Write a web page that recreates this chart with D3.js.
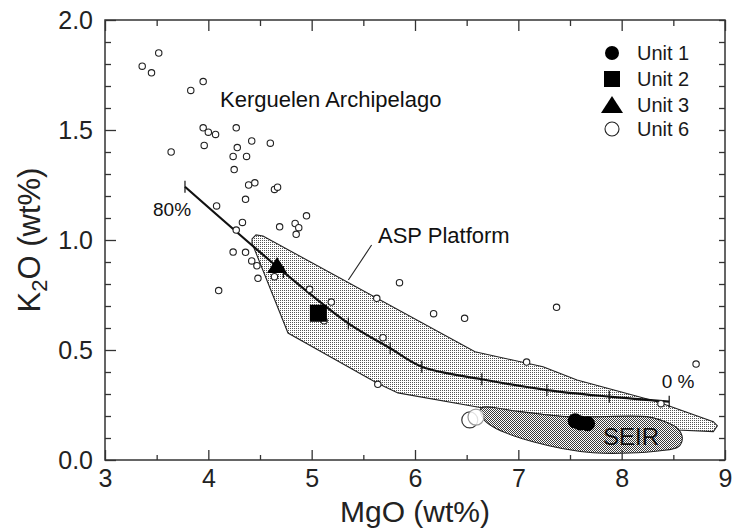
<!DOCTYPE html>
<html>
<head>
<meta charset="utf-8">
<script src="https://cdn.jsdelivr.net/npm/d3@7"></script>
<style>
  body { margin: 0; background: #fff; }
  svg { display: block; font-family: "Liberation Sans", Arial, Helvetica, sans-serif; }
  .axis text { fill: #222; }
  .axis line { stroke: #333; stroke-width: 1.3; }
</style>
</head>
<body>
<div id="chart"></div>
<script>
// small open circles (Kerguelen Archipelago + ASP samples)
var kergMgO = [3.52, 3.36, 3.45, 3.95, 3.83, 3.95, 4.00, 4.07, 4.27, 3.96,
               3.64, 4.42, 4.28, 4.24, 4.37, 4.25, 4.60, 4.39, 4.45, 4.64,
               4.67, 4.36, 4.08, 4.95, 4.33, 4.69, 4.84, 4.875, 4.85, 4.27,
               4.24, 4.36, 4.42, 4.47, 4.48, 4.64, 4.10, 4.98, 5.19, 5.12,
               5.63, 5.85, 5.69, 6.18, 6.48, 7.37, 7.08, 8.72, 8.38, 5.64];
var kergK2O = [1.85, 1.79, 1.76, 1.72, 1.68, 1.51, 1.49, 1.48, 1.51, 1.43,
               1.40, 1.45, 1.42, 1.38, 1.38, 1.32, 1.44, 1.25, 1.26, 1.23,
               1.24, 1.185, 1.155, 1.11, 1.08, 1.06, 1.075, 1.056, 1.026, 1.045,
               0.945, 0.944, 0.905, 0.883, 0.826, 0.833, 0.77, 0.776, 0.718, 0.633,
               0.735, 0.806, 0.556, 0.665, 0.644, 0.694, 0.445, 0.436, 0.256, 0.344];

// site units
var unit1MgO = [7.55, 7.60, 7.67];
var unit1K2O = [0.178, 0.168, 0.165];
var unit2MgO = [5.065];
var unit2K2O = [0.667];
var unit3MgO = [4.665];
var unit3K2O = [0.882];
var unit6MgO = [6.53, 6.59];
var unit6K2O = [0.182, 0.195];

// mixing curve, one tick per 10 % (80 % .. 0 %)
var mixMgO = [3.774, 4.726, 5.355, 5.76, 6.066, 6.647, 7.276, 7.88, 8.46];
var mixK2O = [1.242, 0.855, 0.621, 0.508, 0.424, 0.367, 0.318, 0.288, 0.265];

// ASP Platform field
var aspMgO = [4.423, 4.461, 4.529, 6.581, 7.239, 7.568, 8.345, 8.887, 8.926, 8.887,
              8.539, 8.374, 8.245, 7.471, 7.016, 6.658, 5.835, 5.632, 4.771, 4.423];
var aspK2O = [1.005, 1.023, 1.018, 0.492, 0.424, 0.364, 0.265, 0.174, 0.155, 0.129,
              0.136, 0.182, 0.195, 0.195, 0.218, 0.236, 0.305, 0.350, 0.577, 0.986];

// SEIR field
var seirMgO = [6.639, 7.016, 7.471, 8.245, 8.374, 8.539, 8.587, 8.548, 8.374, 7.723, 7.142, 6.755, 6.658];
var seirK2O = [0.236, 0.220, 0.197, 0.197, 0.182, 0.144, 0.099, 0.060, 0.042, 0.033, 0.083, 0.151, 0.190];

var xMajor = [3, 4, 5, 6, 7, 8, 9];
var xMinor = [3.5, 4.5, 5.5, 6.5, 7.5, 8.5];
var yMajor = [0, 0.5, 1.0, 1.5, 2.0];
var yMinor = d3.range(1, 20).map(function(i){ return i / 10; }).filter(function(v){ return Math.round(v * 10) % 5 !== 0; });

var W = 733, H = 531;
var mLeft = 105, mRight = 725, mTop = 20, mBottom = 460;

var svg = d3.select("#chart").append("svg")
    .attr("width", W)
    .attr("height", H);

var x = d3.scaleLinear().domain([3, 9]).range([mLeft, mRight]);
var y = d3.scaleLinear().domain([0, 2]).range([mBottom, mTop]);

var zip = function(a, b){ return a.map(function(v, i){ return [v, b[i]]; }); };

// stipple patterns
var defs = svg.append("defs");
var pa = defs.append("pattern").attr("id", "aspDots").attr("patternUnits", "userSpaceOnUse")
    .attr("width", 2).attr("height", 2);
pa.append("rect").attr("width", 2).attr("height", 2).attr("fill", "#fff");
pa.append("rect").attr("width", 1).attr("height", 1).attr("fill", "#555");
var ps = defs.append("pattern").attr("id", "seirDots").attr("patternUnits", "userSpaceOnUse")
    .attr("width", 2).attr("height", 2);
ps.append("rect").attr("width", 2).attr("height", 2).attr("fill", "#fff");
ps.append("rect").attr("width", 1).attr("height", 1).attr("fill", "#3a3a3a");
ps.append("rect").attr("x", 1).attr("y", 1).attr("width", 1).attr("height", 1).attr("fill", "#3a3a3a");

var line = d3.line().x(function(d){ return x(d[0]); }).y(function(d){ return y(d[1]); });

// fields
svg.append("path")
    .attr("d", line.curve(d3.curveLinearClosed)(zip(aspMgO, aspK2O)))
    .attr("fill", "url(#aspDots)")
    .attr("stroke", "#222")
    .attr("stroke-width", 1.1);

svg.append("path")
    .attr("d", line.curve(d3.curveCatmullRomClosed.alpha(0.5))(zip(seirMgO, seirK2O)))
    .attr("fill", "url(#seirDots)")
    .attr("stroke", "#222")
    .attr("stroke-width", 1.1);

// mixing curve
svg.append("path")
    .attr("d", line.curve(d3.curveCatmullRom.alpha(0.5))(zip(mixMgO, mixK2O)))
    .attr("fill", "none")
    .attr("stroke", "#111")
    .attr("stroke-width", 2.2);

svg.selectAll("line.mixtick")
  .data(zip(mixMgO, mixK2O))
  .enter()
    .append("line")
    .attr("class", "mixtick")
    .attr("x1", function(d){ return x(d[0]); })
    .attr("x2", function(d){ return x(d[0]); })
    .attr("y1", function(d){ return y(d[1]) - 6; })
    .attr("y2", function(d){ return y(d[1]) + 6; })
    .attr("stroke", "#111")
    .attr("stroke-width", 1.2);

// leader line for ASP Platform
svg.append("line")
    .attr("x1", x(5.58)).attr("y1", y(0.977))
    .attr("x2", x(5.355)).attr("y2", y(0.818))
    .attr("stroke", "#222")
    .attr("stroke-width", 1.1);

// small open circles
svg.selectAll("circle.kerg")
  .data(zip(kergMgO, kergK2O))
  .enter()
    .append("circle")
    .attr("class", "kerg")
    .attr("cx", function(d){ return x(d[0]); })
    .attr("cy", function(d){ return y(d[1]); })
    .attr("r", 3.2)
    .attr("fill", "#fff")
    .attr("stroke", "#222")
    .attr("stroke-width", 1.1);

// unit 6
svg.selectAll("circle.u6")
  .data(zip(unit6MgO, unit6K2O))
  .enter()
    .append("circle")
    .attr("class", "u6")
    .attr("cx", function(d){ return x(d[0]); })
    .attr("cy", function(d){ return y(d[1]); })
    .attr("r", 8)
    .attr("fill", "#fff")
    .attr("fill-opacity", 0.85)
    .attr("stroke", function(d, i){ return i === 0 ? "#333" : "#999"; })
    .attr("stroke-width", 1.2);

// unit 1
svg.selectAll("circle.u1")
  .data(zip(unit1MgO, unit1K2O))
  .enter()
    .append("circle")
    .attr("class", "u1")
    .attr("cx", function(d){ return x(d[0]); })
    .attr("cy", function(d){ return y(d[1]); })
    .attr("r", 7.5)
    .attr("fill", "#000");

// unit 2
svg.selectAll("rect.u2")
  .data(zip(unit2MgO, unit2K2O))
  .enter()
    .append("rect")
    .attr("class", "u2")
    .attr("x", function(d){ return x(d[0]) - 8.5; })
    .attr("y", function(d){ return y(d[1]) - 8.5; })
    .attr("width", 17)
    .attr("height", 17)
    .attr("fill", "#000");

// unit 3
svg.selectAll("path.u3")
  .data(zip(unit3MgO, unit3K2O))
  .enter()
    .append("path")
    .attr("class", "u3")
    .attr("transform", function(d){ return "translate(" + x(d[0]) + "," + y(d[1]) + ")"; })
    .attr("d", "M0,-9L10,7L-10,7Z")
    .attr("fill", "#000");

// frame and axes
svg.append("rect")
    .attr("x", mLeft).attr("y", mTop)
    .attr("width", mRight - mLeft).attr("height", mBottom - mTop)
    .attr("fill", "none")
    .attr("stroke", "#333")
    .attr("stroke-width", 1.5);

function addAxis(axis, tx, ty, labels) {
  var g = svg.append("g")
      .attr("class", "axis")
      .attr("transform", "translate(" + tx + "," + ty + ")")
      .call(axis);
  g.select(".domain").remove();
  if (!labels) g.selectAll("text").remove();
  return g;
}

var gx = addAxis(d3.axisBottom(x).tickValues(xMajor).tickSize(-10).tickPadding(9).tickFormat(d3.format("d")), 0, mBottom, true);
addAxis(d3.axisBottom(x).tickValues(xMinor).tickSize(-5), 0, mBottom, false);
addAxis(d3.axisTop(x).tickValues(xMajor).tickSize(-11), 0, mTop, false);
addAxis(d3.axisTop(x).tickValues(xMinor).tickSize(-6), 0, mTop, false);
var gy = addAxis(d3.axisLeft(y).tickValues(yMajor).tickSize(-11).tickPadding(12).tickFormat(d3.format(".1f")), mLeft, 0, true);
addAxis(d3.axisLeft(y).tickValues(yMinor).tickSize(-6), mLeft, 0, false);
addAxis(d3.axisRight(y).tickValues(yMajor.concat(yMinor)).tickSize(-6), mRight, 0, false);

gx.selectAll("text").style("font-size", "25px");
gy.selectAll("text").style("font-size", "25px");

// axis titles
svg.append("text")
    .attr("x", (mLeft + mRight) / 2)
    .attr("y", 522)
    .attr("text-anchor", "middle")
    .style("font-size", "30px")
    .attr("fill", "#222")
    .text("MgO (wt%)");

var yt = svg.append("text")
    .attr("transform", "translate(40," + ((mTop + mBottom) / 2) + ") rotate(-90)")
    .attr("text-anchor", "middle")
    .style("font-size", "31px")
    .attr("fill", "#222");
yt.append("tspan").text("K");
yt.append("tspan").attr("dy", 7).style("font-size", "22px").text("2");
yt.append("tspan").attr("dy", -7).text("O (wt%)");

// annotations
var notes = [
  { text: "Kerguelen Archipelago", mg: 4.113, k: 1.606, size: 22 },
  { text: "ASP Platform", mg: 5.642, k: 0.988, size: 22 },
  { text: "80%", mg: 3.465, k: 1.109, size: 19 },
  { text: "0 %", mg: 8.387, k: 0.326, size: 19 },
  { text: "SEIR", mg: 7.82, k: 0.068, size: 24 }
];
svg.selectAll("text.note")
  .data(notes)
  .enter()
    .append("text")
    .attr("class", "note")
    .attr("x", function(d){ return x(d.mg); })
    .attr("y", function(d){ return y(d.k); })
    .style("font-size", function(d){ return d.size + "px"; })
    .attr("fill", "#111")
    .text(function(d){ return d.text; });

// legend
var legend = svg.append("g").attr("transform", "translate(612,0)");
var rows = [53, 79, 105, 129];
legend.append("circle").attr("cx", 0).attr("cy", rows[0]).attr("r", 7).attr("fill", "#000");
legend.append("rect").attr("x", -8).attr("y", rows[1] - 8).attr("width", 16).attr("height", 16).attr("fill", "#000");
legend.append("path").attr("transform", "translate(0," + rows[2] + ")").attr("d", "M0,-9L11,8L-11,8Z").attr("fill", "#000");
legend.append("circle").attr("cx", 0).attr("cy", rows[3]).attr("r", 7).attr("fill", "#fff").attr("stroke", "#222").attr("stroke-width", 1.1);
legend.selectAll("text")
  .data(["Unit 1", "Unit 2", "Unit 3", "Unit 6"])
  .enter()
    .append("text")
    .attr("x", 25)
    .attr("y", function(d, i){ return rows[i]; })
    .attr("dy", "0.36em")
    .style("font-size", "20px")
    .attr("fill", "#1a1a1a")
    .text(function(d){ return d; });
</script>
</body>
</html>
